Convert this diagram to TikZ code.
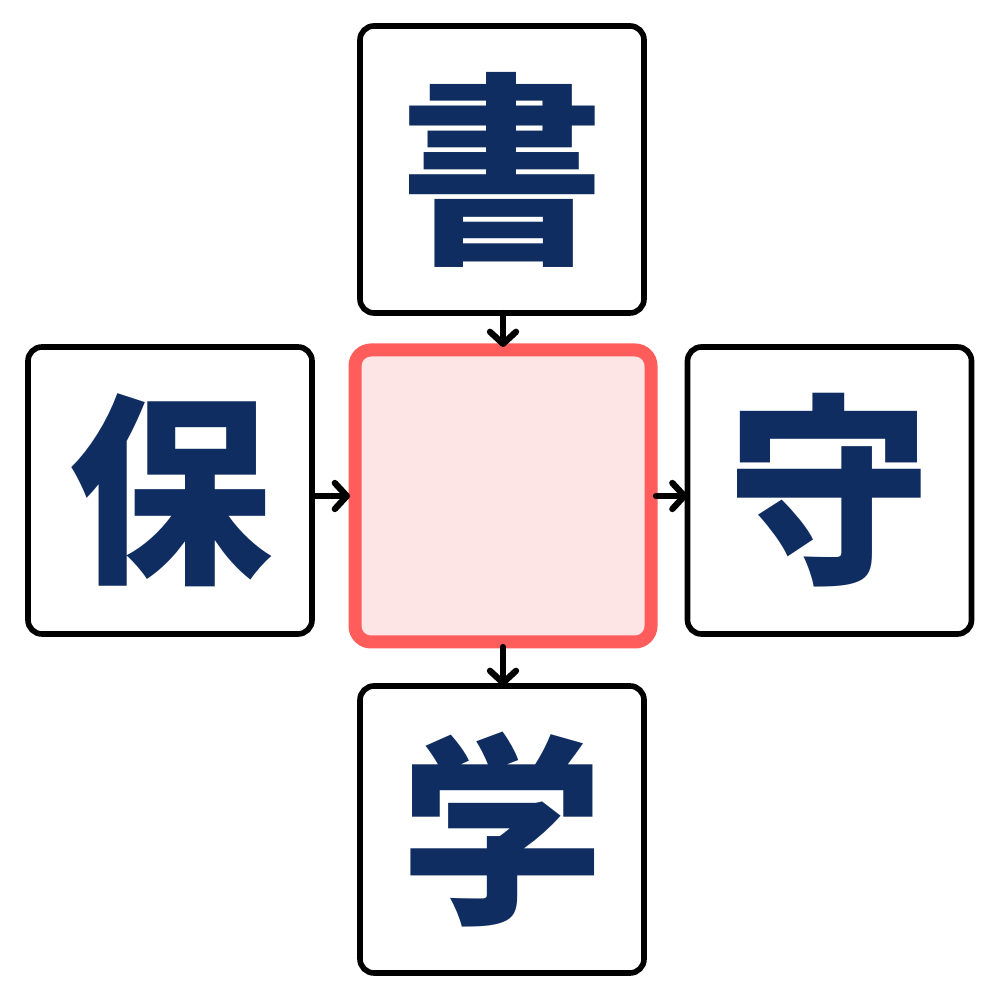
\documentclass[tikz,border=0pt]{standalone}
\usepackage{fontspec}
\newfontfamily\cjk{Noto Sans CJK JP Black}
\usetikzlibrary{arrows.meta}
\definecolor{kanji}{RGB}{16,45,98}
\definecolor{redline}{RGB}{255,92,92}
\definecolor{redfill}{RGB}{253,229,229}
\begin{document}
\begin{tikzpicture}[
  tile/.style={draw=black, line width=1.6pt, rounded corners=0.14cm, fill=white,
    minimum width=2.84cm, minimum height=2.87cm, inner sep=0pt, outer sep=0pt,
    text=kanji, font=\cjk\fontsize{58}{58}\selectfont},
  blank/.style={draw=redline, fill=redfill, line width=3.7pt, rounded corners=0.16cm,
    minimum width=2.96cm, minimum height=2.92cm, inner sep=0pt, outer sep=0pt},
  link/.style={line width=1.8pt, line cap=round, line join=round,
    -{Straight Barb[length=1.2mm, width=2.6mm, round]}}]
\useasboundingbox (0,0) rectangle (10,10);
\node[blank] (mid) at (5.03,5.04) {};
\node[tile] (top) at (5.02,8.305) {書};
\node[tile] (left) at (1.70,5.095) {保};
\node[tile] (right) at (8.295,5.095) {守};
\node[tile] (bottom) at (5.02,1.705) {学};

\draw[link] (top.south -| mid.north) -- ([yshift=0.03cm]mid.north);
\draw[link] (left.east |- mid.west) -- ([xshift=-0.05cm]mid.west);
\draw[link] ([xshift=0.05cm]mid.east) -- (right.west |- mid.east);
\draw[link] ([yshift=-0.05cm]mid.south) -- (bottom.north -| mid.south);
\end{tikzpicture}
\end{document}
